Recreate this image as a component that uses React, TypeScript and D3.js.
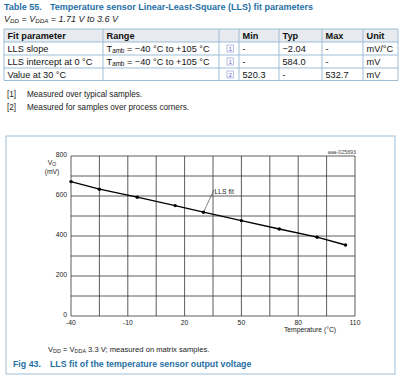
import React from "react";
import * as d3 from "d3";

// ---- table data ----
const tableHeaders = ["Fit parameter", "Range", "", "Min", "Typ", "Max", "Unit"];
const paramNames = ["LLS slope", "LLS intercept at 0 °C", "Value at 30 °C"];
const rangeText = ["= −40 °C to +105 °C", "= −40 °C to +105 °C", ""];
const noteRefs = ["1", "1", "2"];
const minVals = ["-", "-", "520.3"];
const typVals = ["−2.04", "584.0", "-"];
const maxVals = ["-", "-", "532.7"];
const units = ["mV/°C", "mV", "mV"];
const footnotes = ["Measured over typical samples.", "Measured for samples over process corners."];

// ---- chart data ----
const temps = [-40, -25, -5, 15, 30, 50, 70, 90, 105];
const voltages = [672, 634, 594, 552, 519, 477, 435, 394, 355];
const xTicks = [-40, -10, 20, 50, 80, 110];
const yTicks = [0, 200, 400, 600, 800];

const FONT = "'Liberation Sans', Arial, sans-serif";
const BLUE = "#1f6fa5";
const BORDER = "#9dbdd6";

export default function App() {
  const colX = [4, 103, 219, 239, 279, 322, 363, 398];
  const rowY = [29, 42, 55, 68, 80.5];

  const x = d3.scaleLinear().domain([-40, 110]).range([71, 355]);
  const y = d3.scaleLinear().domain([0, 800]).range([316, 156]);
  const xGrid = d3.range(-40, 110.1, 15);
  const yGrid = d3.range(0, 800.1, 100);
  const line = d3
    .line<number>()
    .x((_, i) => x(temps[i]))
    .y((d) => y(d));

  const cells = (i: number) => [paramNames[i], null, null, minVals[i], typVals[i], maxVals[i], units[i]];
  const TF = 9.2;

  return (
    <svg
      width={400}
      height={376}
      style={{ position: "absolute", left: 0, top: 0, background: "#fff" }}
      fontFamily={FONT}
    >
      {/* title */}
      <text x={4} y={9.5} fontSize={9} fontWeight="bold" fill={BLUE}>
        Table 55.
        <tspan x={50}>Temperature sensor Linear-Least-Square (LLS) fit parameters</tspan>
      </text>
      <text x={4} y={21.5} fontSize={9} fontStyle="italic" fill="#222">
        V<tspan fontSize={6.2} dy={1.7}>DD</tspan>
        <tspan dy={-1.7}> = V</tspan>
        <tspan fontSize={6.2} dy={1.7}>DDA</tspan>
        <tspan dy={-1.7}> = 1.71 V to 3.6 V</tspan>
      </text>

      {/* table */}
      <rect x={colX[0]} y={rowY[0]} width={colX[7] - colX[0]} height={rowY[1] - rowY[0]} fill="#e7ebef" />
      {rowY.map((ry, i) => (
        <line key={"h" + i} x1={colX[0]} x2={colX[7]} y1={ry} y2={ry} stroke={BORDER} strokeWidth={1} />
      ))}
      {colX.map((cx, i) => (
        <line key={"v" + i} x1={cx} x2={cx} y1={rowY[0]} y2={rowY[4]} stroke={BORDER} strokeWidth={1} />
      ))}
      {tableHeaders.map((h, i) => (
        <text key={"th" + i} x={colX[i] + 3.5} y={rowY[0] + 9.6} fontSize={TF} fontWeight="bold" fill="#111">
          {h}
        </text>
      ))}
      {paramNames.map((_, r) => (
        <g key={"row" + r}>
          {cells(r).map((c, i) =>
            c === null ? null : (
              <text key={i} x={colX[i] + 3.5} y={rowY[r + 1] + 9.5} fontSize={TF} fill="#111">
                {c}
              </text>
            )
          )}
          {rangeText[r] && (
            <text x={colX[1] + 3.5} y={rowY[r + 1] + 9.5} fontSize={TF} fill="#111">
              T<tspan fontSize={6.3} dy={1.7}>amb</tspan>
              <tspan dy={-1.7}> {rangeText[r]}</tspan>
            </text>
          )}
          <rect
            x={colX[2] + 8}
            y={rowY[r + 1] + 3}
            width={6.5}
            height={7}
            fill="none"
            stroke="#8a8ad8"
            strokeWidth={0.6}
          />
          <text x={colX[2] + 11.25} y={rowY[r + 1] + 8.6} fontSize={5.6} fill="#5b4fc8" textAnchor="middle">
            {noteRefs[r]}
          </text>
        </g>
      ))}

      {/* footnotes */}
      {footnotes.map((f, i) => (
        <g key={"fn" + i}>
          <text x={7} y={97 + i * 12.5} fontSize={8.2} fill="#222">
            [{i + 1}]
          </text>
          <text x={27} y={97 + i * 12.5} fontSize={8.2} fill="#222">
            {f}
          </text>
        </g>
      ))}

      {/* chart frame */}
      <rect x={6} y={136} width={389} height={238} fill="none" stroke={BORDER} strokeWidth={1} />

      {/* grid */}
      {xGrid.map((t, i) => (
        <line key={"gx" + i} x1={x(t)} x2={x(t)} y1={y(800)} y2={y(0)} stroke="#333" strokeWidth={0.8} />
      ))}
      {yGrid.map((t, i) => (
        <line key={"gy" + i} x1={x(-40)} x2={x(110)} y1={y(t)} y2={y(t)} stroke="#333" strokeWidth={0.8} />
      ))}

      {/* ticks */}
      {yTicks.map((t) => (
        <text key={"yt" + t} x={67} y={y(t) + 1} fontSize={6.8} textAnchor="end" fill="#222">
          {t}
        </text>
      ))}
      {xTicks.map((t) => (
        <text key={"xt" + t} x={x(t)} y={y(0) + 8.5} fontSize={6.8} textAnchor="middle" fill="#222">
          {String(t)}
        </text>
      ))}
      <text x={52} y={165} fontSize={6.8} textAnchor="middle" fill="#222">
        V<tspan fontSize={5} dy={1.3}>O</tspan>
      </text>
      <text x={52} y={174} fontSize={6.8} textAnchor="middle" fill="#222">
        (mV)
      </text>
      <text x={310} y={332} fontSize={6.8} textAnchor="middle" fill="#222">
        Temperature (°C)
      </text>
      <text x={356} y={153.5} fontSize={5.3} textAnchor="end" fill="#444">
        aaa-025693
      </text>

      {/* data */}
      <path d={line(voltages) || ""} fill="none" stroke="#000" strokeWidth={1.3} />
      {voltages.map((v, i) => (
        <circle key={"p" + i} cx={x(temps[i])} cy={y(v)} r={1.7} fill="#000" />
      ))}
      <line x1={x(30)} y1={y(519)} x2={x(35.5)} y2={190} stroke="#333" strokeWidth={0.6} />
      <text x={x(35.8)} y={194} fontSize={6.8} fill="#222">
        LLS fit
      </text>

      {/* caption */}
      <text x={48} y={352} fontSize={7.6} fill="#222">
        V<tspan fontSize={5.4} dy={1.4}>DD</tspan>
        <tspan dy={-1.4}> = V</tspan>
        <tspan fontSize={5.4} dy={1.4}>DDA</tspan>
        <tspan dy={-1.4}> 3.3 V; measured on matrix samples.</tspan>
      </text>
      <text x={13} y={367} fontSize={8.8} fontWeight="bold" fill={BLUE}>
        Fig 43.
        <tspan x={50}>LLS fit of the temperature sensor output voltage</tspan>
      </text>
    </svg>
  );
}
